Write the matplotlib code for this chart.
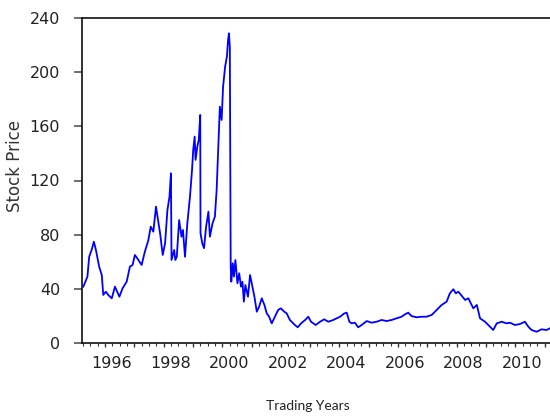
import numpy as np
import matplotlib
matplotlib.use("Agg")
import matplotlib.pyplot as plt
import matplotlib.transforms as mtransforms
from matplotlib.ticker import MultipleLocator

# trading date (decimal year) and price
years = [1995.26, 1995.40, 1995.46, 1995.55, 1995.62, 1995.69, 1995.80, 1995.89,
         1995.94, 1996.03, 1996.11, 1996.23, 1996.34, 1996.49, 1996.60, 1996.74,
         1996.85, 1996.94, 1997.02, 1997.14, 1997.25, 1997.36, 1997.48, 1997.56,
         1997.65, 1997.74, 1997.82, 1997.88, 1997.97, 1998.05, 1998.13, 1998.20,
         1998.25, 1998.27, 1998.36, 1998.40, 1998.45, 1998.53, 1998.61, 1998.66,
         1998.73, 1998.81, 1998.90, 1998.97, 1999.01, 1999.06, 1999.09, 1999.15,
         1999.20, 1999.25, 1999.26, 1999.32, 1999.38, 1999.45, 1999.53, 1999.58,
         1999.67, 1999.75, 1999.81, 1999.86, 1999.92, 1999.98, 2000.03, 2000.10,
         2000.16, 2000.20, 2000.23, 2000.26, 2000.29, 2000.31, 2000.36, 2000.40,
         2000.45, 2000.52, 2000.58, 2000.64, 2000.69, 2000.74, 2000.79, 2000.88,
         2000.95, 2001.03, 2001.10, 2001.18, 2001.26, 2001.35, 2001.44, 2001.52,
         2001.60, 2001.69, 2001.80, 2001.91, 2002.00, 2002.12, 2002.20, 2002.31,
         2002.48, 2002.58, 2002.69, 2002.83, 2002.94, 2003.03, 2003.19, 2003.34,
         2003.48, 2003.62, 2003.79, 2004.02, 2004.17, 2004.25, 2004.34, 2004.42,
         2004.53, 2004.64, 2004.76, 2004.93, 2005.10, 2005.27, 2005.44, 2005.61,
         2005.78, 2005.95, 2006.12, 2006.24, 2006.35, 2006.46, 2006.63, 2006.80,
         2006.97, 2007.15, 2007.32, 2007.49, 2007.66, 2007.77, 2007.89, 2007.97,
         2008.06, 2008.15, 2008.29, 2008.40, 2008.57, 2008.69, 2008.80, 2008.97,
         2009.08, 2009.25, 2009.37, 2009.54, 2009.71, 2009.82, 2009.99, 2010.16,
         2010.33, 2010.45, 2010.56, 2010.73, 2010.90, 2011.07, 2011.19]
prices = [41.6, 49.0, 63.7, 69.2, 74.8, 68.7, 56.4, 50.2,
          35.5, 37.9, 35.5, 33.0, 41.6, 34.2, 40.4, 45.3,
          56.4, 57.6, 65.0, 61.3, 57.6, 67.4, 76.0, 85.9,
          82.2, 100.7, 89.6, 81.0, 65.0, 73.6, 98.2, 108.0,
          125.3, 61.3, 68.7, 61.3, 63.7, 90.8, 78.5, 83.5,
          63.7, 88.4, 108.0, 127.8, 142.5, 152.4, 135.2, 145.0,
          150.0, 168.4, 81.0, 73.6, 70.0, 85.9, 97.0, 78.5,
          88.4, 93.3, 113.0, 140.1, 174.5, 164.7, 189.3, 204.1,
          211.4, 223.8, 228.7, 218.8, 56.4, 45.3, 58.9, 49.0,
          61.3, 44.1, 51.5, 41.6, 45.3, 30.5, 42.8, 34.2,
          50.2, 41.6, 34.2, 23.1, 26.8, 33.0, 28.1, 21.9,
          19.4, 14.5, 19.4, 24.4, 25.6, 23.1, 21.9, 17.0,
          13.3, 11.6, 14.5, 17.0, 19.4, 15.7, 13.3, 15.7,
          17.5, 15.7, 17.0, 19.4, 21.9, 22.4, 15.7, 14.5,
          15.0, 11.6, 13.3, 16.2, 15.0, 15.7, 17.0, 16.2,
          17.0, 18.2, 19.4, 21.2, 22.4, 19.9, 19.0, 19.4,
          19.4, 20.7, 24.4, 28.1, 30.5, 36.7, 39.7, 36.7,
          37.9, 35.5, 31.8, 33.0, 25.6, 28.1, 18.2, 15.7,
          13.3, 9.6, 14.5, 15.7, 14.5, 15.0, 13.3, 14.0,
          15.7, 12.0, 9.6, 8.3, 10.1, 9.6, 10.9]

y_ticks = [0, 40, 80, 120, 160, 200, 240]
x_labels = list(range(1996, 2012))

fig = plt.figure(figsize=(5.5, 4.18), dpi=100)
ax = fig.add_axes([82.3 / 550, 75 / 418, 471 / 550, 325 / 418])

ax.plot(years, prices, color="#0000ff", linewidth=1.3)

ax.set_xlim(1995.225, 1995.225 + 471 / 29.3)
ax.set_ylim(0, 240)

tick_font = dict(family=["Liberation Sans Narrow", "DejaVu Sans"], size=11.5)

ax.set_yticks(y_ticks)
ax.set_yticklabels([str(v) for v in y_ticks], **tick_font, color="#222222")
ax.tick_params(axis="y", direction="out", length=6, width=1.2, pad=10,
               color="#555555")

ax.set_xticks(x_labels)
ax.set_xticklabels([str(y) if y % 2 == 0 else "" for y in x_labels],
                   **tick_font, color="#222222")
ax.xaxis.set_minor_locator(MultipleLocator(0.25))
ax.tick_params(axis="x", which="major", direction="out", length=3.2,
               width=1.0, pad=6, color="#333333")
ax.tick_params(axis="x", which="minor", direction="out", length=1.8,
               width=0.8, color="#333333")

# labels sit a bit right of the year tick
offset = mtransforms.ScaledTranslation(7 / 100, 0, fig.dpi_scale_trans)
for lab in ax.get_xticklabels():
    lab.set_transform(lab.get_transform() + offset)

for side in ["left", "bottom", "top", "right"]:
    ax.spines[side].set_linewidth(1.2)
    ax.spines[side].set_color("#111111")

fig.text(15 / 550, 1 - 166 / 418, "Stock Price", rotation=90,
         ha="center", va="center", family="DejaVu Sans", size=12,
         color="#333333")
fig.text(308 / 550, 1 - 406 / 418, "Trading Years", ha="center",
         va="center", family="Lato", size=10, color="#222222")

fig.savefig("out.png", dpi=100)
